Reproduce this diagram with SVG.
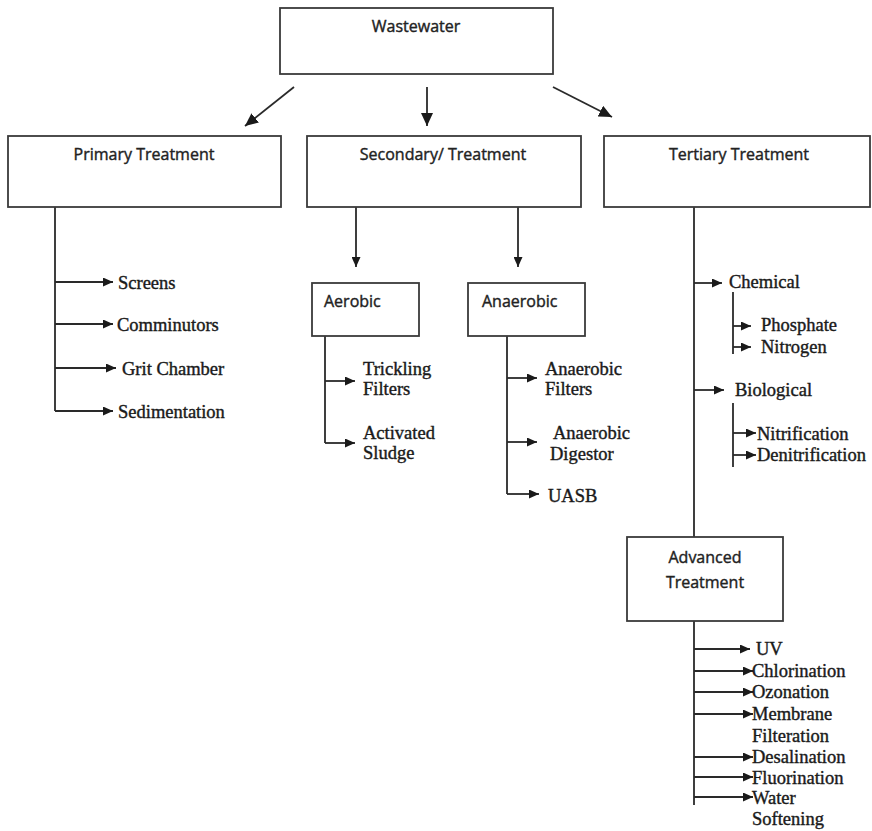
<svg xmlns="http://www.w3.org/2000/svg" width="872" height="831" viewBox="0 0 872 831">
<defs>
<marker id="ah" markerUnits="userSpaceOnUse" markerWidth="11" markerHeight="9" refX="10" refY="4.5" orient="auto">
<path d="M0,0 L10,4.5 L0,9 z" fill="#1a1a1a"/>
</marker>
<marker id="ahL" markerUnits="userSpaceOnUse" markerWidth="14" markerHeight="12" refX="13" refY="6" orient="auto">
<path d="M0,0 L13,6 L0,12 z" fill="#1a1a1a"/>
</marker>
</defs>
<style>
.box{fill:#fff;stroke:#3a3a3a;stroke-width:1.8}
.sans{font-family:"Open Sans","Liberation Sans",sans-serif;font-size:16px;fill:#222;stroke:#222;stroke-width:0.4}
.ser{font-family:"Liberation Serif","Times New Roman",serif;font-size:18.5px;fill:#1a1a1a;stroke:#1a1a1a;stroke-width:0.4}
.ln{fill:none;stroke:#2a2a2a;stroke-width:1.8}
.ar{fill:none;stroke:#2a2a2a;stroke-width:1.8;marker-end:url(#ah)}
.arL{fill:none;stroke:#2a2a2a;stroke-width:1.8;marker-end:url(#ahL)}
</style>
<rect width="872" height="831" fill="#fff"/>

<g id="connectors">
<line class="arL" x1="294" y1="87" x2="245" y2="126"/>
<line class="arL" x1="427" y1="87" x2="427" y2="126"/>
<line class="arL" x1="553" y1="87" x2="612" y2="117"/>
<polyline class="ln" points="55,207 55,411"/>
<line class="ar" x1="55" y1="282" x2="113" y2="282"/>
<line class="ar" x1="55" y1="324" x2="113" y2="324"/>
<line class="ar" x1="55" y1="368" x2="116" y2="368"/>
<line class="ar" x1="55" y1="411" x2="113" y2="411"/>
<line class="ar" x1="356" y1="207" x2="356" y2="267"/>
<line class="ar" x1="518" y1="207" x2="518" y2="267"/>
<polyline class="ln" points="325,336 325,443"/>
<line class="ar" x1="325" y1="381" x2="355" y2="381"/>
<line class="ar" x1="325" y1="443" x2="355" y2="443"/>
<polyline class="ln" points="507,336 507,494"/>
<line class="ar" x1="507" y1="378" x2="537" y2="378"/>
<line class="ar" x1="507" y1="442" x2="537" y2="442"/>
<line class="ar" x1="507" y1="494" x2="539" y2="494"/>
<polyline class="ln" points="694,207 694,537"/>
<line class="ar" x1="694" y1="283" x2="722" y2="283"/>
<polyline class="ln" points="733,292 733,354"/>
<line class="ar" x1="733" y1="326" x2="751" y2="326"/>
<line class="ar" x1="733" y1="347" x2="751" y2="347"/>
<line class="ar" x1="694" y1="390" x2="724" y2="390"/>
<polyline class="ln" points="733,403 733,467"/>
<line class="ar" x1="733" y1="433" x2="756" y2="433"/>
<line class="ar" x1="733" y1="455" x2="756" y2="455"/>
<polyline class="ln" points="694,621 694,805"/>
<line class="ar" x1="694" y1="649" x2="750" y2="649"/>
<line class="ar" x1="694" y1="671" x2="753" y2="671"/>
<line class="ar" x1="694" y1="692" x2="753" y2="692"/>
<line class="ar" x1="694" y1="714" x2="753" y2="714"/>
<line class="ar" x1="694" y1="757" x2="753" y2="757"/>
<line class="ar" x1="694" y1="777" x2="753" y2="777"/>
<line class="ar" x1="694" y1="797" x2="753" y2="797"/>
</g>

<g id="wastewater">
<rect class="box" x="280" y="8" width="273" height="66"/>
<text class="sans" x="416" y="32" text-anchor="middle">Wastewater</text>
</g>
<g id="primary">
<rect class="box" x="8" y="136" width="273" height="71"/>
<text class="sans" x="144" y="160" text-anchor="middle">Primary Treatment</text>
</g>
<g id="secondary">
<rect class="box" x="307" y="136" width="274" height="71"/>
<text class="sans" x="443" y="160" text-anchor="middle">Secondary/ Treatment</text>
</g>
<g id="tertiary">
<rect class="box" x="604" y="136" width="266" height="71"/>
<text class="sans" x="739" y="160" text-anchor="middle">Tertiary Treatment</text>
</g>
<g id="aerobic">
<rect class="box" x="312" y="283" width="107" height="53"/>
<text class="sans" x="324" y="307">Aerobic</text>
</g>
<g id="anaerobic">
<rect class="box" x="468" y="283" width="117" height="53"/>
<text class="sans" x="482" y="307">Anaerobic</text>
</g>
<g id="advanced">
<rect class="box" x="627" y="537" width="156" height="84"/>
<text class="sans" x="705" y="563" text-anchor="middle">Advanced</text>
<text class="sans" x="705" y="588" text-anchor="middle">Treatment</text>
</g>

<g id="primary-items">
<text class="ser" x="118" y="289">Screens</text>
<text class="ser" x="117" y="331">Comminutors</text>
<text class="ser" x="122" y="375">Grit Chamber</text>
<text class="ser" x="118" y="418">Sedimentation</text>
</g>
<g id="aerobic-items">
<text class="ser" x="363" y="375">Trickling</text>
<text class="ser" x="363" y="395">Filters</text>
<text class="ser" x="363" y="439">Activated</text>
<text class="ser" x="363" y="459">Sludge</text>
</g>
<g id="anaerobic-items">
<text class="ser" x="545" y="375">Anaerobic</text>
<text class="ser" x="545" y="395">Filters</text>
<text class="ser" x="553" y="439">Anaerobic</text>
<text class="ser" x="550" y="460">Digestor</text>
<text class="ser" x="548" y="502">UASB</text>
</g>
<g id="tertiary-items">
<text class="ser" x="729" y="288">Chemical</text>
<text class="ser" x="761" y="331">Phosphate</text>
<text class="ser" x="761" y="353">Nitrogen</text>
<text class="ser" x="735" y="396">Biological</text>
<text class="ser" x="757" y="440">Nitrification</text>
<text class="ser" x="757" y="461">Denitrification</text>
</g>
<g id="advanced-items">
<text class="ser" x="756" y="655">UV</text>
<text class="ser" x="752" y="677">Chlorination</text>
<text class="ser" x="752" y="698">Ozonation</text>
<text class="ser" x="752" y="720">Membrane</text>
<text class="ser" x="752" y="742">Filteration</text>
<text class="ser" x="752" y="763">Desalination</text>
<text class="ser" x="752" y="784">Fluorination</text>
<text class="ser" x="752" y="804">Water</text>
<text class="ser" x="752" y="825">Softening</text>
</g>
</svg>
